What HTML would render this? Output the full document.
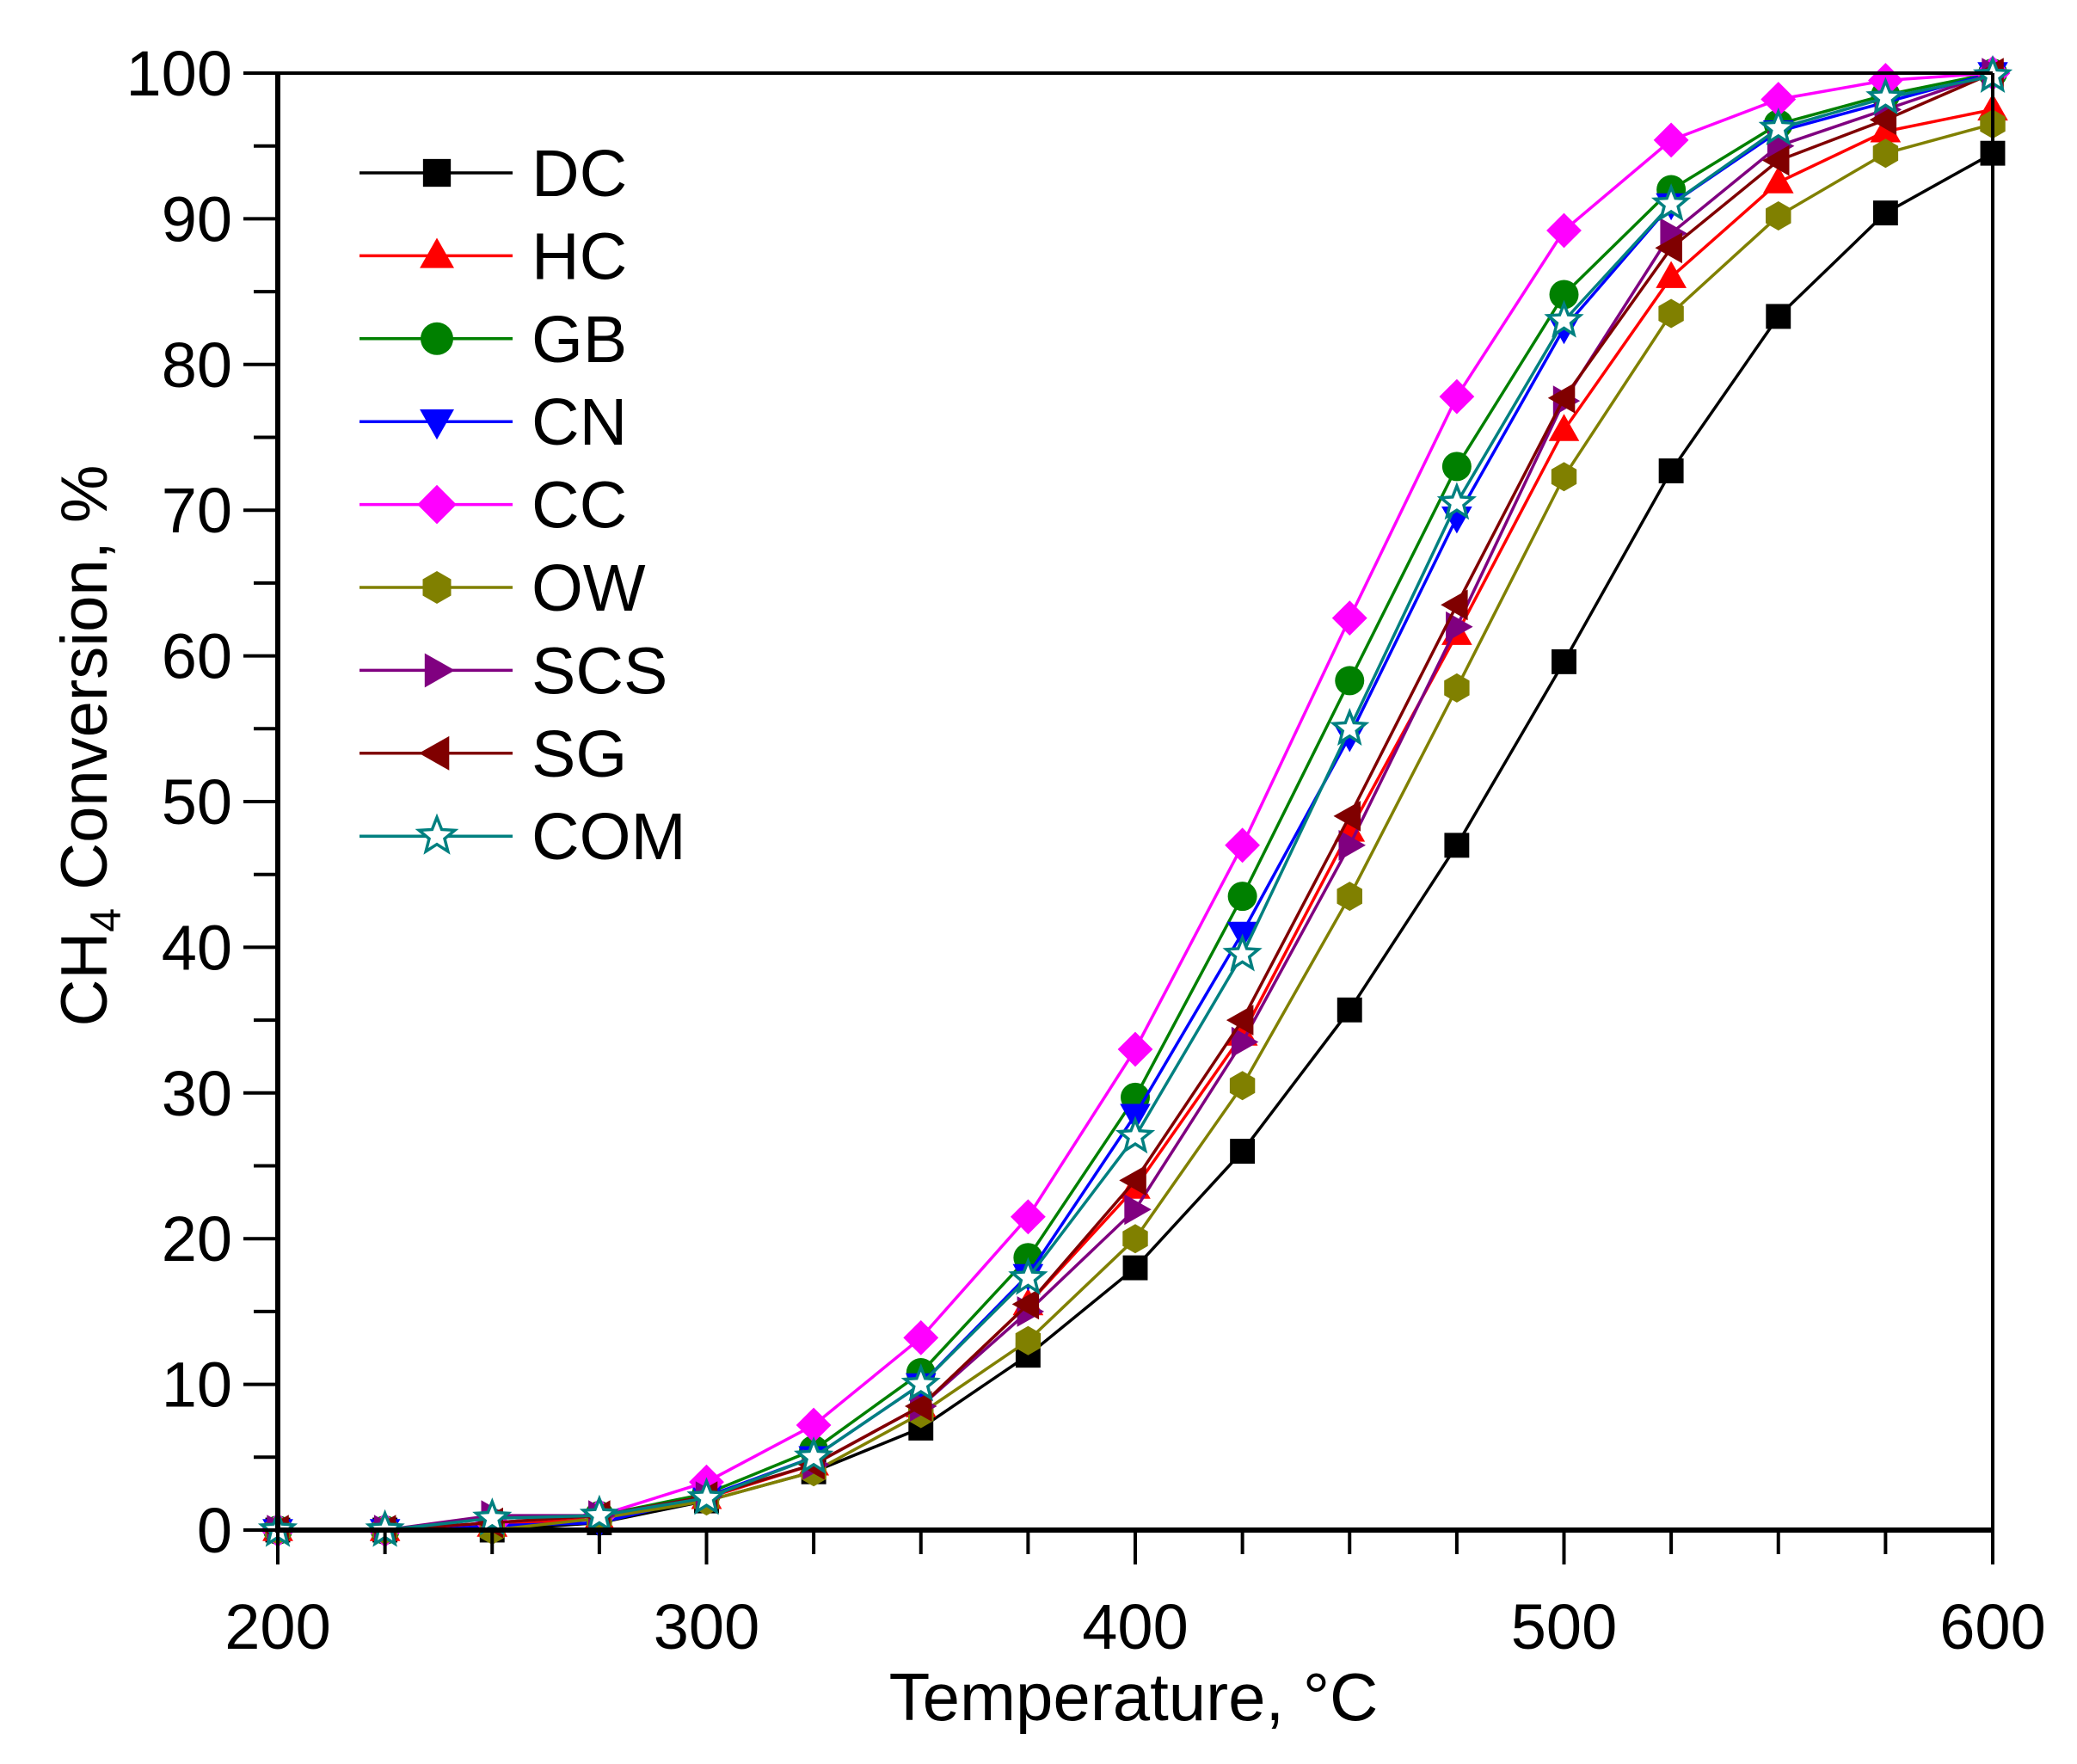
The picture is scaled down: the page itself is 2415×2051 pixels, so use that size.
<!DOCTYPE html>
<html><head><meta charset="utf-8"><style>
html,body{margin:0;padding:0;background:#fff;}
svg{display:block;font-family:"Liberation Sans",Arial,sans-serif;}
</style></head><body>
<svg id="chart" width="2415" height="2051" viewBox="0 0 2415 2051" xmlns="http://www.w3.org/2000/svg">
<rect width="2415" height="2051" fill="#fff"/>
<g id="series-layer"></g>
<g id="axes-layer"></g>
<g id="legend-layer"></g>
<text x="1318" y="2000" font-size="78" text-anchor="middle">Temperature, °C</text>
<text transform="translate(124,867) rotate(-90)" font-size="76" text-anchor="middle">CH<tspan font-size="50" dy="16">4</tspan><tspan dy="-16"> Conversion, %</tspan></text>
</svg>
<script>
const temps = [200,225,250,275,300,325,350,375,400,425,450,475,500,525,550,575,600];
const seriesNames = ["DC","HC","GB","CN","CC","OW","SCS","SG","COM"];
const dcValues  = [0,0,0,0.5,2,4,7,12,18,26,35.7,47,59.6,72.7,83.3,90.4,94.5];
const hcValues  = [0,0,0.3,0.8,2.2,4.5,8.5,15.5,23.5,34,48,61.5,75.5,86,92.5,96,97.5];
const gbValues  = [0,0,0.5,1,2.5,5.5,10.8,18.7,29.7,43.5,58.3,73,84.8,92,96.5,98.5,100];
const cnValues  = [0,0,0.3,0.5,2.3,5,10,17.5,28.5,41,54.5,69.5,82.5,91,96,98,100];
const ccValues  = [0,0,0.5,1,3.3,7.2,13.2,21.5,33,47,62.6,77.8,89.2,95.4,98.2,99.5,100];
const owValues  = [0,0,0,0.8,2,4,8,13,20,30.5,43.5,57.8,72.3,83.5,90.2,94.5,96.5];
const scsValues = [0,0,1,1,2.3,4.5,8.5,15,22,33.5,47,62,77.5,89,95,97.5,100];
const sgValues  = [0,0,0.5,1,2.3,4.5,8.5,15.5,24,35,49,63.5,77.7,88,94,96.8,100];
const comValues = [0,0,0.8,1,2.2,5,10,17.3,27,39.5,55,70.5,83,91,96.2,98.3,99.8];
const xTickLabels = [200,300,400,500,600];
const yTickLabels = [0,10,20,30,40,50,60,70,80,90,100];

const NS="http://www.w3.org/2000/svg";
const X0=323,X1=2317,Y0=1779,Y1=85;
function xs(v){return X0+(v-200)/400*(X1-X0);}
function ys(v){return Y0-(v/100)*(Y0-Y1);}
function mk(tag,attrs,parent){const e=document.createElementNS(NS,tag);for(const k in attrs)e.setAttribute(k,attrs[k]);parent.appendChild(e);return e;}

const styles=[
 {c:"#000000",m:"square"},{c:"#ff0000",m:"up"},{c:"#008000",m:"circle"},{c:"#0000ff",m:"down"},
 {c:"#ff00ff",m:"diamond"},{c:"#808000",m:"hex"},{c:"#800080",m:"right"},{c:"#800000",m:"left"},{c:"#008080",m:"star"}];
const allValues=[dcValues,hcValues,gbValues,cnValues,ccValues,owValues,scsValues,sgValues,comValues];

function marker(g,type,x,y,c,s){
 let el;
 const r=s;
 if(type==="square") el=mk("rect",{x:x-r*0.85,y:y-r*0.85,width:r*1.7,height:r*1.7,fill:c},g);
 else if(type==="circle") el=mk("circle",{cx:x,cy:y,r:r,fill:c},g);
 else {
  let pts=[];
  if(type==="up") pts=[[0,-1.1],[1.05,0.75],[-1.05,0.75]];
  else if(type==="down") pts=[[0,1.1],[1.05,-0.75],[-1.05,-0.75]];
  else if(type==="right") pts=[[1.1,0],[-0.75,1.05],[-0.75,-1.05]];
  else if(type==="left") pts=[[-1.1,0],[0.75,1.05],[0.75,-1.05]];
  else if(type==="diamond") pts=[[0,-1.2],[1.2,0],[0,1.2],[-1.2,0]];
  else if(type==="hex") for(let i=0;i<6;i++){const a=Math.PI/2+i*Math.PI/3;pts.push([Math.cos(a),Math.sin(a)]);}
  else if(type==="star") for(let i=0;i<10;i++){const a=-Math.PI/2+i*Math.PI/5;const rr=i%2?0.5:1.15;pts.push([rr*Math.cos(a),rr*Math.sin(a)]);}
  const p=pts.map(q=>(x+q[0]*r).toFixed(1)+","+(y+q[1]*r).toFixed(1)).join(" ");
  if(type==="star") el=mk("polygon",{points:p,fill:"#fff",stroke:c,"stroke-width":3.5},g);
  else el=mk("polygon",{points:p,fill:c},g);
 }
 return el;
}

const sl=document.getElementById("series-layer");
allValues.forEach((vals,i)=>{
 const g=mk("g",{},sl);
 
 
 const d=vals.map((v,j)=>(j?"L":"M")+xs(temps[j]).toFixed(1)+","+ys(v).toFixed(1)).join(" ");
 const line=mk("path",{d:d,fill:"none",stroke:styles[i].c,"stroke-width":3.5},g);
 
 
 vals.forEach((v,j)=>{
  const m=marker(g,styles[i].m,xs(temps[j]),ys(v),styles[i].c,17);
  
  
 });
});

const ax=document.getElementById("axes-layer");
mk("line",{x1:X0,y1:Y1,x2:X1,y2:Y1,stroke:"#000","stroke-width":4},ax);
mk("line",{x1:X1,y1:Y1,x2:X1,y2:Y0,stroke:"#000","stroke-width":4},ax);
mk("line",{x1:X0,y1:Y1-2,x2:X0,y2:Y0+3,stroke:"#000","stroke-width":6},ax);
mk("line",{x1:X0-3,y1:Y0,x2:X1+2,y2:Y0,stroke:"#000","stroke-width":6},ax);
for(let t=200;t<=600;t+=25){
 const x=xs(t);
 const tk=mk("line",{x1:x,y1:Y0,x2:x,y2:Y0+(t%100===0?40:28),stroke:"#000","stroke-width":4},ax);
 
 
}
xTickLabels.forEach(t=>{
 const tx=mk("text",{x:xs(t),y:1917,"font-size":74,"text-anchor":"middle"},ax);
 tx.textContent=t;
 
 
});
for(let v=0;v<=100;v+=5){
 const y=ys(v);
 const tk=mk("line",{x1:X0,y1:y,x2:X0-(v%10===0?40:28),y2:y,stroke:"#000","stroke-width":4},ax);
 
 
}
yTickLabels.forEach(v=>{
 const tx=mk("text",{x:270,y:ys(v)+26,"font-size":74,"text-anchor":"end"},ax);
 tx.textContent=v;
 
 
});

const lg=document.getElementById("legend-layer");
seriesNames.forEach((n,i)=>{
 const y=201+i*96.4;
 const g=mk("g",{},lg);
 
 
 mk("line",{x1:418,y1:y,x2:596,y2:y,stroke:styles[i].c,"stroke-width":3.5},g);
 marker(g,styles[i].m,508,y,styles[i].c,19);
 const t=mk("text",{x:618,y:y+27,"font-size":77},g);
 t.textContent=n;
});
</script>
</body></html>
